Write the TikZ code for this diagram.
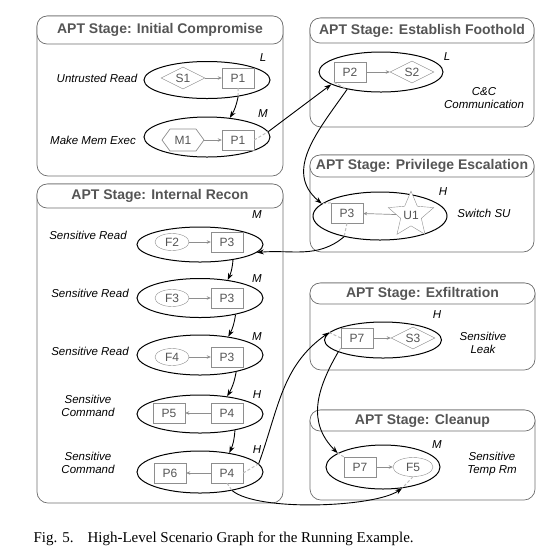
\documentclass[tikz,border=0pt]{standalone}
\usepackage{fontspec}
\setmainfont{Liberation Sans}
\newfontfamily\capfont{Liberation Serif}
\usetikzlibrary{shapes.geometric,arrows.meta}

\definecolor{boxgray}{HTML}{6E6E6E}
\definecolor{txtgray}{HTML}{555555}
\definecolor{ingray}{HTML}{8E8E8E}
\definecolor{stubgray}{HTML}{BDBDBD}

\tikzset{
  stagebox/.style={draw=boxgray, line width=0.7pt, rounded corners=11pt},
  stagetitle/.style={draw=boxgray, line width=0.7pt, rounded corners=10pt, fill=white,
    text=txtgray, font=\fontsize{14}{16}\selectfont\bfseries, inner sep=0pt},
  scen/.style={ellipse, draw, line width=1pt, inner sep=0pt},
  proc/.style={draw=ingray, fill=white, text=txtgray, minimum width=32pt,
    minimum height=20pt, inner sep=0pt, font=\fontsize{12}{14}\selectfont},
  sock/.style={diamond, aspect=2, draw=ingray, fill=white, text=txtgray,
    minimum width=44pt, minimum height=22pt, inner sep=0pt, font=\fontsize{12}{14}\selectfont},
  fobj/.style={ellipse, draw=ingray, fill=white, text=txtgray, minimum width=34pt,
    minimum height=17pt, inner sep=0pt, font=\fontsize{12}{14}\selectfont},
  mobj/.style={text=txtgray, minimum width=42pt, minimum height=22pt, inner sep=0pt,
    font=\fontsize{12}{14}\selectfont},
  uobj/.style={star, star points=5, star point ratio=2.2, draw=ingray, fill=white,
    text=txtgray, minimum size=40pt, inner sep=0pt, font=\fontsize{12}{14}\selectfont},
  lbl/.style={font=\fontsize{11.5}{13.5}\selectfont\itshape, align=center},
  lvl/.style={font=\fontsize{11.5}{13.5}\selectfont\itshape},
  inflow/.style={draw=ingray, line width=0.7pt, -{Stealth[length=4pt,width=3.5pt]}},
  stub/.style={draw=stubgray, line width=1pt, dashed, dash pattern=on 3pt off 2pt},
  flow/.style={line width=0.9pt, -{Stealth[length=7pt,width=5pt]}}
}

\begin{document}
\begin{tikzpicture}[x=1pt, y=-1pt]
  \useasboundingbox (0,0) rectangle (559,550);

  % Draw stage boxes
  \draw[stagebox] (37,16) rectangle (283,176);
  \node[stagetitle, minimum width=246pt, minimum height=28pt] (ic) at (160,30) {APT Stage: Initial Compromise};
  \draw[stagebox] (310,18) rectangle (534,127);
  \node[stagetitle, minimum width=224pt, minimum height=25pt] (ef) at (422,30.5) {APT Stage: Establish Foothold};
  \draw[stagebox] (310,155) rectangle (534,252);
  \node[stagetitle, minimum width=224pt, minimum height=22pt] (pe) at (422,166) {APT Stage: Privilege Escalation};
  \draw[stagebox] (37,184) rectangle (283,503);
  \node[stagetitle, minimum width=246pt, minimum height=24pt] (ir) at (160,196) {APT Stage: Internal Recon};
  \draw[stagebox] (310,283) rectangle (535,370);
  \node[stagetitle, minimum width=225pt, minimum height=21pt] (ex) at (422.5,293.5) {APT Stage: Exfiltration};
  \draw[stagebox] (310,410) rectangle (535,500);
  \node[stagetitle, minimum width=225pt, minimum height=21pt] (cl) at (422.5,420.5) {APT Stage: Cleanup};

  % Draw scenario ellipses
  \node[scen, minimum width=126pt, minimum height=37pt] (ur) at (207,80) {};
  \node[scen, minimum width=126pt, minimum height=40pt] (mme) at (207,137) {};
  \node[scen, minimum width=124pt, minimum height=40pt] (cc) at (381,72) {};
  \node[scen, minimum width=134pt, minimum height=48pt] (su) at (380,216) {};
  \node[scen, minimum width=126pt, minimum height=35pt] (sr1) at (200,244.5) {};
  \node[scen, minimum width=126pt, minimum height=39pt] (sr2) at (200,298) {};
  \node[scen, minimum width=126pt, minimum height=40pt] (sr3) at (200,355) {};
  \node[scen, minimum width=126pt, minimum height=38pt] (sc1) at (200,414) {};
  \node[scen, minimum width=126pt, minimum height=42pt] (sc2) at (200,472) {};
  \node[scen, minimum width=117pt, minimum height=36pt] (sl) at (383,340) {};
  \node[scen, minimum width=114pt, minimum height=44pt] (tr) at (383,467) {};

  % Initial compromise
  \node[sock] (s1) at (183,78) {S1};
  \node[proc] (p1a) at (238,78) {P1};
  \draw[inflow] (s1) -- (p1a);
  \draw[draw=ingray, fill=white, line width=0.7pt] (183,140) ++(-21,0) -- ++(8,-11) -- ++(26,0) -- ++(8,11) -- ++(-8,11) -- ++(-26,0) -- cycle;
  \node[mobj] (m1) at (183,140) {M1};
  \node[proc] (p1b) at (238,140) {P1};
  \draw[inflow] (m1) -- (p1b);

  % Establish foothold
  \node[proc] (p2) at (350,72) {P2};
  \node[sock] (s2) at (412,72) {S2};
  \draw[inflow] (p2) -- (s2);

  % Privilege escalation
  \node[proc] (p3a) at (347,213) {P3};
  \node[uobj] (u1) at (411,215) {U1};
  \draw[inflow] (u1) -- (p3a);

  % Internal recon
  \node[fobj] (f2) at (172,242) {F2};
  \node[proc] (p3b) at (227,242) {P3};
  \draw[inflow] (f2) -- (p3b);
  \node[fobj] (f3) at (172,298) {F3};
  \node[proc] (p3c) at (227,298) {P3};
  \draw[inflow] (f3) -- (p3c);
  \node[fobj] (f4) at (172,357) {F4};
  \node[proc] (p3d) at (227,357) {P3};
  \draw[inflow] (f4) -- (p3d);
  \node[proc] (p5) at (169,413) {P5};
  \node[proc] (p4a) at (227,413) {P4};
  \draw[inflow] (p4a) -- (p5);
  \node[proc] (p6) at (170,473) {P6};
  \node[proc] (p4b) at (227,473) {P4};
  \draw[inflow] (p4b) -- (p6);

  % Exfiltration and cleanup
  \node[proc] (p7a) at (357,338) {P7};
  \node[sock] (s3) at (413,338) {S3};
  \draw[inflow] (p7a) -- (s3);
  \node[proc] (p7b) at (360,467) {P7};
  \node[fobj, minimum width=40pt, minimum height=19pt] (f5) at (413,467) {F5};
  \draw[inflow] (p7b) -- (f5);

  % Scenario names and levels
  \node[lbl] (nur) at (97,78) {Untrusted Read};
  \node[lbl] (nmme) at (93,140) {Make Mem Exec};
  \node[lvl] (lur) at (263,58) {L};
  \node[lvl] (lmme) at (263,114) {M};
  \node[lbl] (ncc) at (484,98) {C\&C\\Communication};
  \node[lvl] (lcc) at (447,57) {L};
  \node[lbl] (nsu) at (484,213) {Switch SU};
  \node[lvl] (lsu) at (443,192) {H};
  \node[lbl] (nsr1) at (88,235) {Sensitive Read};
  \node[lvl] (lsr1) at (257,215) {M};
  \node[lbl] (nsr2) at (90,293) {Sensitive Read};
  \node[lvl] (lsr2) at (257,279) {M};
  \node[lbl] (nsr3) at (90,351) {Sensitive Read};
  \node[lvl] (lsr3) at (257,337) {M};
  \node[lbl] (nsc1) at (88,406) {Sensitive\\Command};
  \node[lvl] (lsc1) at (257,395) {H};
  \node[lbl] (nsc2) at (88,463) {Sensitive\\Command};
  \node[lvl] (lsc2) at (257,450) {H};
  \node[lbl] (nsl) at (483,343) {Sensitive\\Leak};
  \node[lvl] (lsl) at (437,315) {H};
  \node[lbl] (ntr) at (492,464) {Sensitive\\Temp Rm};
  \node[lvl] (ltr) at (437,445) {M};

  % Draw grey stubs inside the ellipses
  \draw[stub] (p1a.south) -- (ur.-28);
  \draw[stub] (p1b.east) -- (mme.5);
  \draw[stub] (p2.south west) -- (cc.207);
  \draw[stub] (p3a.south) -- (su.210);
  \draw[stub] (p3a.north west) -- (su.168);
  \draw[stub] (p4b.east) -- (sc2.8);
  \draw[stub] (p4b.south) -- (sc2.-30);
  \draw[stub] (p7a.west) -- (sl.172);
  \draw[stub] (p7a.south west) -- (sl.195);
  \draw[stub] (p7b.north west) -- (tr.163);
  \draw[stub] (f5.south) -- (tr.-48);

  % Draw the attack flow
  \draw[flow] (ur.-28) to[bend left=10] (mme.40);
  \draw[flow] (mme.5) -- (cc.194);
  \draw[flow] (cc.207) to[out=235, in=140, looseness=1.1] (su.168);
  \draw[flow] (su.210) to[out=220, in=5] (sr1.-8);
  \draw[flow] (sr1.-25) to[bend left=10] (sr2.33);
  \draw[flow] (sr2.-25) to[bend left=10] (sr3.33);
  \draw[flow] (sr3.-25) to[bend left=10] (sc1.33);
  \draw[flow] (sc1.-25) to[bend left=10] (sc2.33);
  \draw[flow] (sc2.8) to[out=70, in=215] (sl.172);
  \draw[flow] (sl.195) to[out=240, in=135, looseness=1.1] (tr.163);
  \draw[flow] (sc2.-30) to[out=-40, in=-145, looseness=0.5] (tr.-48);

  % Caption
  \node[anchor=west, font=\capfont\fontsize{15}{17}\selectfont] (cap) at (30,539) {Fig. 5.\hspace{14pt}High-Level Scenario Graph for the Running Example.};

\end{tikzpicture}
\end{document}
